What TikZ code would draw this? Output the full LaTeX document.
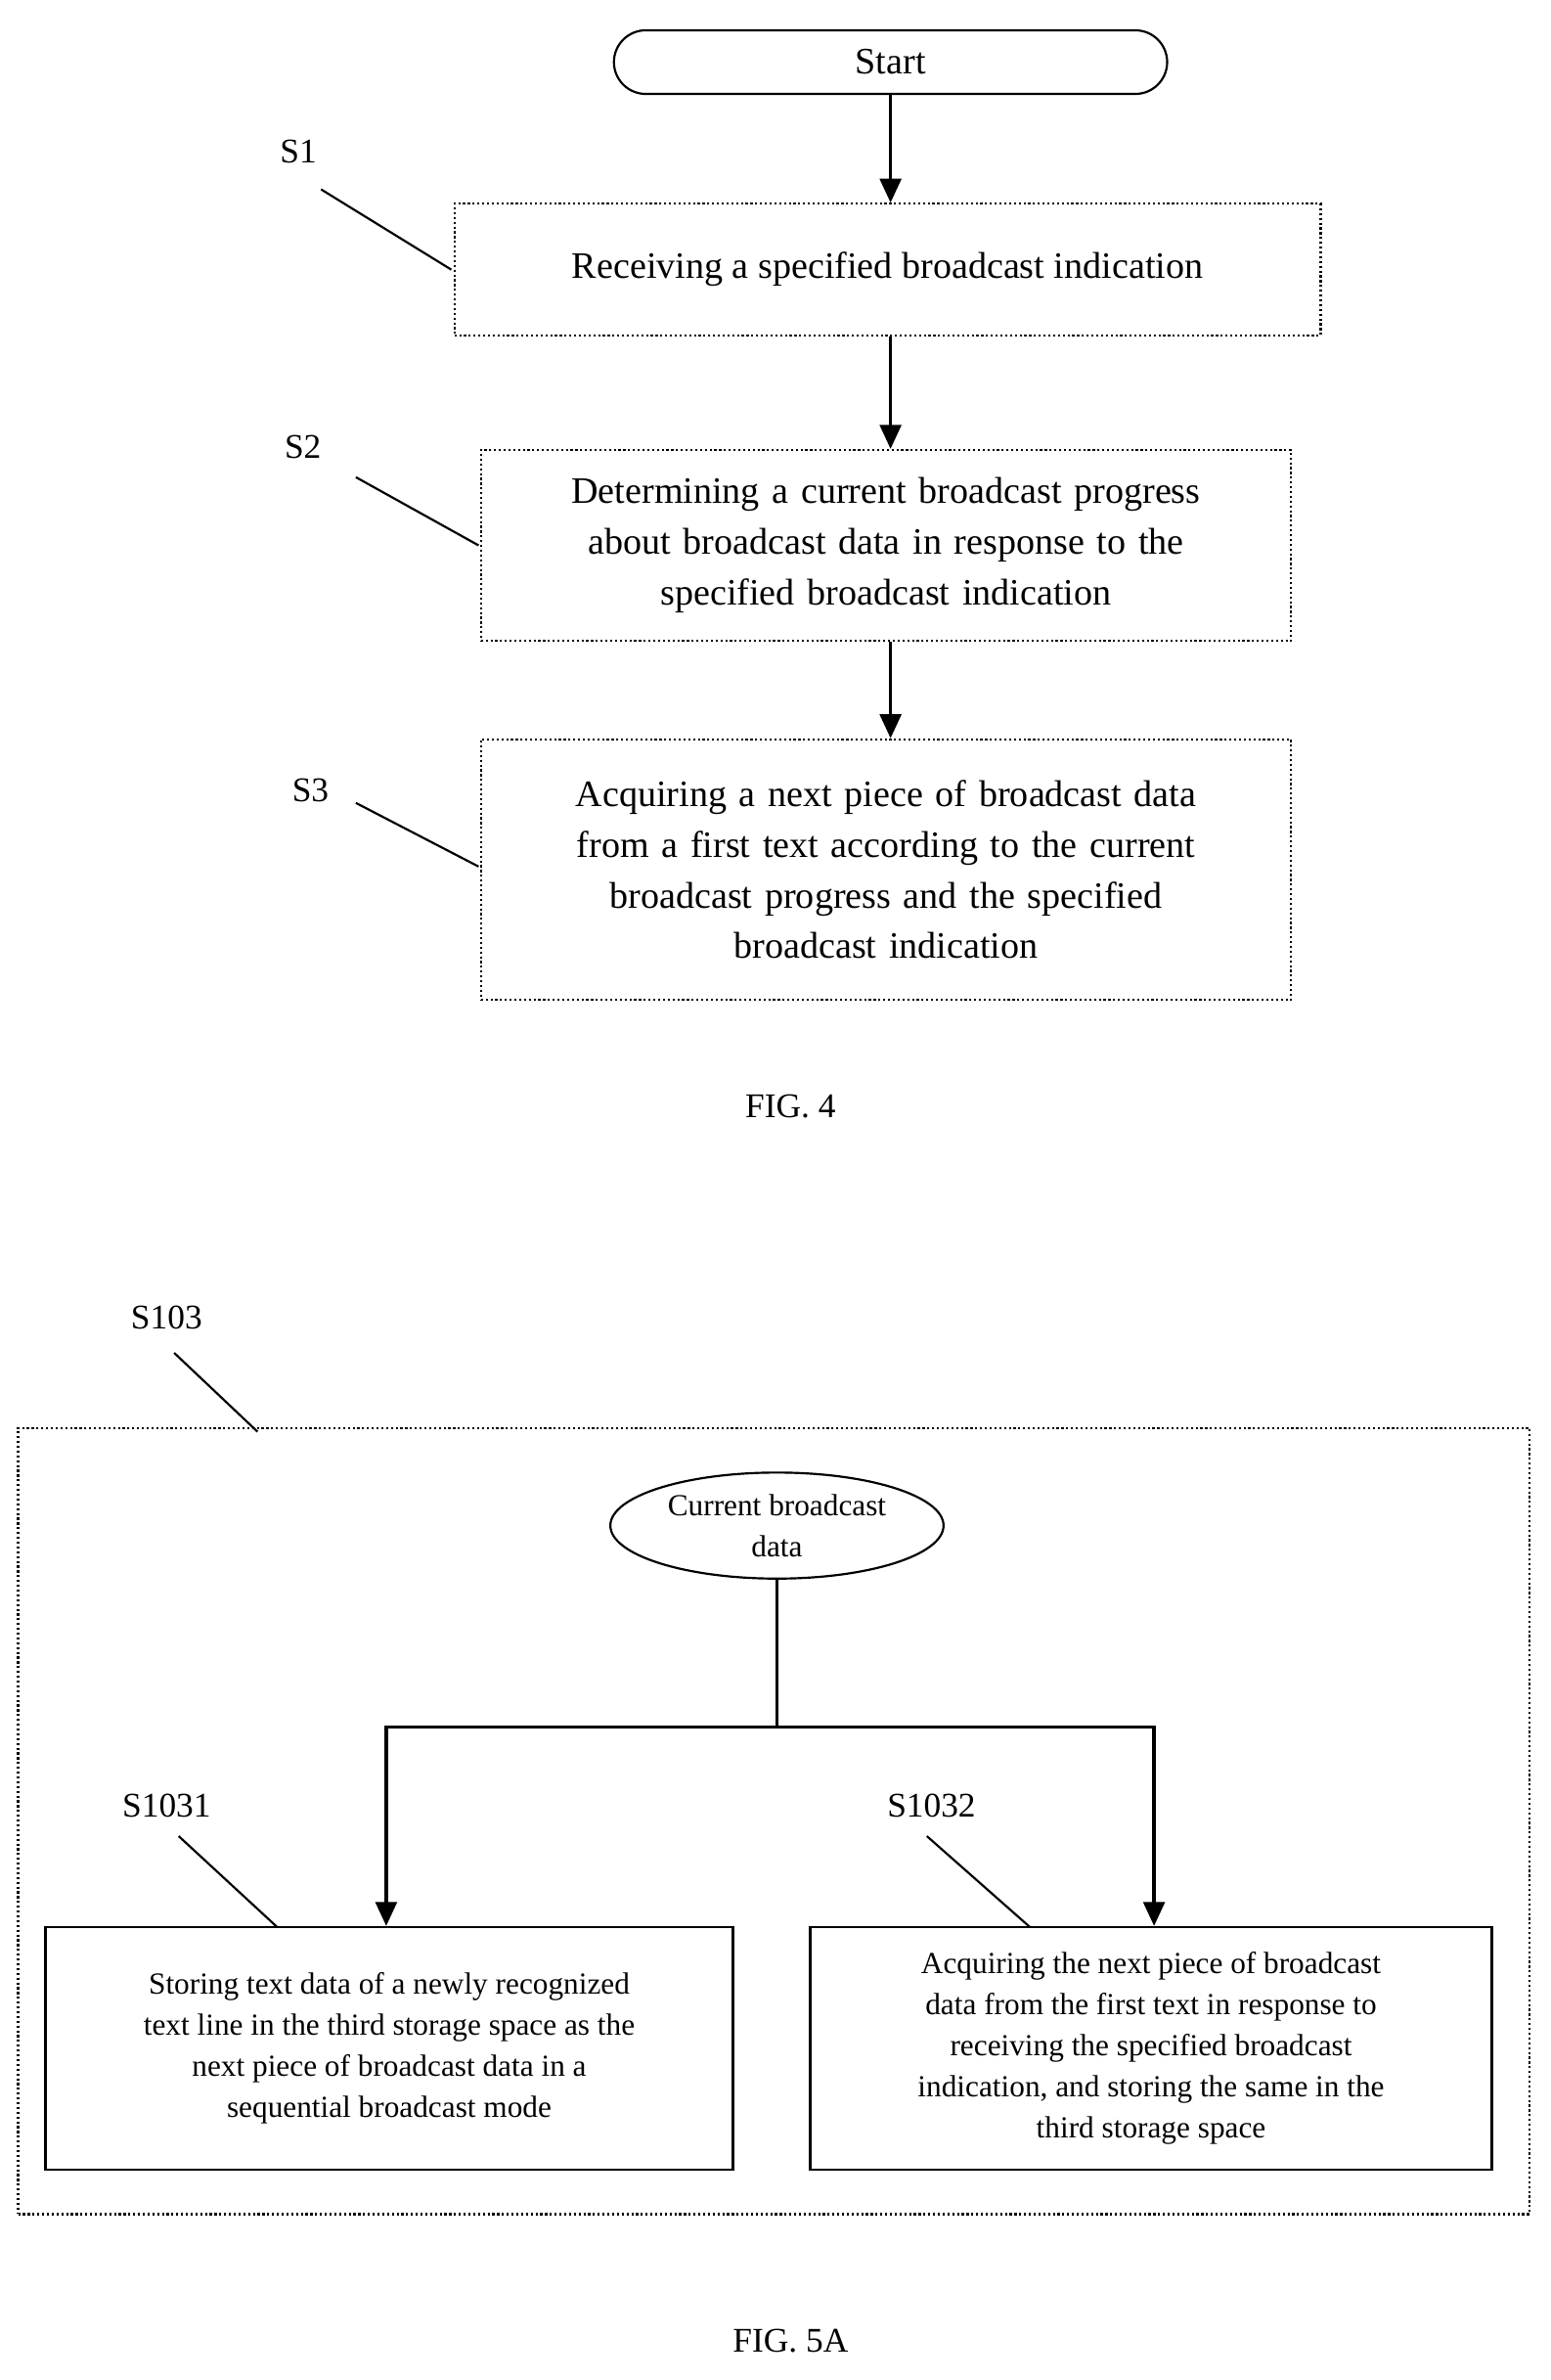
\documentclass[tikz,border=0pt]{standalone}
\usepackage{fontspec}
\setmainfont{Liberation Serif}
\usetikzlibrary{arrows.meta,shapes.geometric,shapes.misc,positioning}

\begin{document}
\begin{tikzpicture}[
    x=0.02cm, y=-0.02cm,
    % --- Style Definitions ---
    stepbox/.style={draw, densely dotted, thick, align=center, inner sep=0pt, font=\fontsize{14}{19}\selectfont},
    sub/.style={draw, thick, align=center, inner sep=0pt, font=\fontsize{11.5}{15.5}\selectfont},
    lead/.style={draw, thick},
    flow/.style={draw, very thick, -{Triangle[width=8pt,length=9pt]}},
    tag/.style={font=\fontsize{13}{15}\selectfont}
]
    \useasboundingbox (0,0) rectangle (1024,1571);

    % --- FIG. 4 ---
    \node[draw, thick, rounded rectangle, minimum width=377*0.02cm, minimum height=42*0.02cm,
          font=\fontsize{14}{16}\selectfont] (start) at (588,41) {Start};
    \node[stepbox, minimum width=572*0.02cm, minimum height=87*0.02cm] (s1) at (586,178)
        {Receiving a specified broadcast indication};
    \node[stepbox, text width=535*0.02cm, minimum height=126*0.02cm] (s2) at (585,360)
        {Determining a current broadcast progress\\about broadcast data in response to the\\specified broadcast indication};
    \node[stepbox, text width=535*0.02cm, minimum height=172*0.02cm] (s3) at (585,574)
        {Acquiring a next piece of broadcast data\\from a first text according to the current\\broadcast progress and the specified\\broadcast indication};

    \draw[flow] (start.south -| 588,0) -- (s1.north -| 588,0);
    \draw[flow] (s1.south -| 588,0) -- (s2.north -| 588,0);
    \draw[flow] (s2.south -| 588,0) -- (s3.north -| 588,0);

    % step labels with leader lines
    \node[tag] (t1) at (197,100) {S1};
    \node[tag] (t2) at (200,295) {S2};
    \node[tag] (t3) at (205,522) {S3};
    \coordinate (e1) at (298,178);
    \coordinate (e2) at (316,360);
    \coordinate (e3) at (316,572);
    \draw[lead] (212,125) -- (e1);
    \draw[lead] (235,315) -- (e2);
    \draw[lead] (235,530) -- (e3);

    \node[tag] (fig4) at (522,730) {FIG. 4};

    % --- FIG. 5A ---
    \node[draw, densely dotted, thick, minimum width=998*0.02cm, minimum height=519*0.02cm] (frame) at (511,1202) {};
    \node[tag] (t103) at (110,870) {S103};
    \coordinate (e103) at (170,945);
    \draw[lead] (115,893) -- (e103);

    \node[ellipse, draw, thick, minimum width=220*0.02cm, minimum height=70*0.02cm, inner sep=0pt,
          align=center, font=\fontsize{11.5}{15.5}\selectfont] (cur) at (513,1007) {Current broadcast\\data};

    \node[sub, minimum width=454*0.02cm, minimum height=160*0.02cm] (s1031) at (257,1352)
        {Storing text data of a newly recognized\\text line in the third storage space as the\\next piece of broadcast data in a\\sequential broadcast mode};
    \node[sub, minimum width=450*0.02cm, minimum height=160*0.02cm] (s1032) at (760,1352)
        {Acquiring the next piece of broadcast\\data from the first text in response to\\receiving the specified broadcast\\indication, and storing the same in the\\third storage space};

    \coordinate (split) at (513,1140);
    \draw[thick] (cur.south) -- (split);
    \draw[flow] (split) -- (255,1140) -- (s1031.north -| 255,0);
    \draw[flow] (split) -- (762,1140) -- (s1032.north -| 762,0);

    \node[tag] (t1031) at (110,1192) {S1031};
    \node[tag] (t1032) at (615,1192) {S1032};
    \coordinate (e1031) at (183,1272);
    \coordinate (e1032) at (680,1272);
    \draw[lead] (118,1212) -- (e1031);
    \draw[lead] (612,1212) -- (e1032);

    \node[tag] (fig5) at (522,1545) {FIG. 5A};
\end{tikzpicture}
\end{document}
